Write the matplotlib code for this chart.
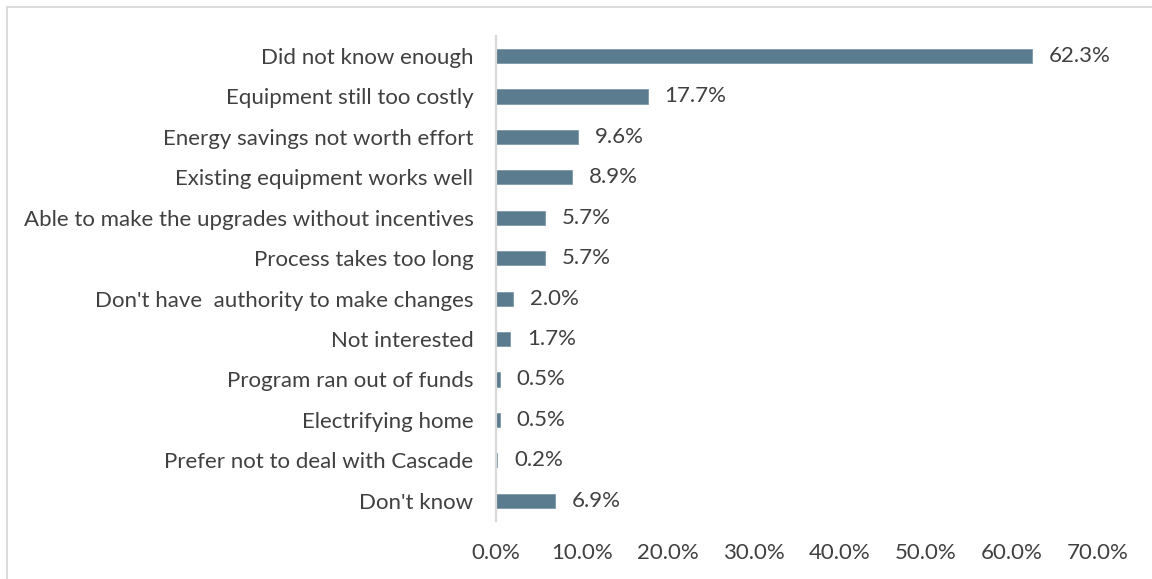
import matplotlib
matplotlib.use("Agg")
import matplotlib.pyplot as plt
from matplotlib.patches import Rectangle
from matplotlib.ticker import FixedLocator, FuncFormatter

reasons = [
    "Did not know enough",
    "Equipment still too costly",
    "Energy savings not worth effort",
    "Existing equipment works well",
    "Able to make the upgrades without incentives",
    "Process takes too long",
    "Don't have  authority to make changes",
    "Not interested",
    "Program ran out of funds",
    "Electrifying home",
    "Prefer not to deal with Cascade",
    "Don't know",
]
shares = [62.3, 17.7, 9.6, 8.9, 5.7, 5.7, 2.0, 1.7, 0.5, 0.5, 0.2, 6.9]
x_ticks = [0, 10, 20, 30, 40, 50, 60, 70]
title = "Figure 11. Reasons Not Already Making Energy Upgrades (n=407)"

W, H, DPI = 1152, 579, 100
BAR = "#5a7c8e"
TXT = "#404040"
FS = 16

plt.rcParams["font.family"] = ["Lato", "DejaVu Sans"]

fig = plt.figure(figsize=(W / DPI, H / DPI), dpi=DPI)
fig.patch.set_facecolor("white")

# light chart-area border
fig.patches.append(Rectangle((7 / W, -0.05), 1.2, 1 - 7 / H + 0.05,
                             transform=fig.transFigure, fill=False,
                             edgecolor="#d9d9d9", linewidth=1.3))

# chart title sits above the chart area, clipped by the top edge
fig.text(0.513, 1 + 3.5 / H, title, ha="center", va="baseline",
         fontsize=15, color=TXT)

ax = fig.add_axes([495.7 / W, 1 - 521 / H, (1098 - 495.7) / W, (521 - 35.8) / H])
ypos = list(range(len(reasons)))
ax.barh(ypos, shares, height=0.35, color=BAR, edgecolor="#7d98a8", linewidth=0.6)
ax.set_ylim(len(reasons) - 0.5, -0.5)
ax.set_xlim(0, 70)

ax.set_yticks(ypos)
ax.set_yticklabels(reasons, fontsize=FS, color=TXT)
ax.xaxis.set_major_locator(FixedLocator(x_ticks))
ax.xaxis.set_major_formatter(FuncFormatter(lambda v, p: f"{v:.1f}%"))
ax.tick_params(axis="x", length=0, pad=16, labelsize=FS, labelcolor=TXT)
ax.tick_params(axis="y", length=0, pad=16)

for s in ("top", "right", "bottom"):
    ax.spines[s].set_visible(False)
ax.spines["left"].set_color("#d9d9d9")
ax.spines["left"].set_linewidth(1.6)

for y, v in zip(ypos, shares):
    ax.annotate(f"{v:.1f}%", xy=(v, y), xytext=(12, 0), textcoords="offset points",
                va="center", ha="left", fontsize=FS, color=TXT)

fig.savefig("out.png", dpi=DPI)
